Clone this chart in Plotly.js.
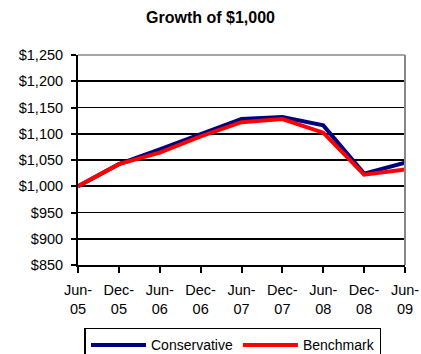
<!DOCTYPE html>
<html><head><meta charset="utf-8">
<script src="https://cdn.plot.ly/plotly-3.0.1.min.js"></script>
<style>html,body{margin:0;padding:0;background:#fff}#chart{width:421px;height:354px}</style>
</head><body><div id="chart"></div>
<script>
const categories = ["Jun-<br>05","Dec-<br>05","Jun-<br>06","Dec-<br>06","Jun-<br>07","Dec-<br>07","Jun-<br>08","Dec-<br>08","Jun-<br>09"];
const conservative = [1000, 1042, 1070, 1099, 1128, 1132, 1116, 1024, 1045];
const benchmark = [1000, 1042, 1064, 1095, 1122, 1128, 1102, 1022, 1032];
const yTicks = [850, 900, 950, 1000, 1050, 1100, 1150, 1200, 1250];
const yTickText = ["$850","$900","$950","$1,000","$1,050","$1,100","$1,150","$1,200","$1,250"];

const font = {family: "Liberation Sans, Arial, sans-serif", size: 14.5, color: "#000"};
const traces = [
  {x: categories, y: conservative, name: "Conservative", type: "scatter", mode: "lines",
   line: {color: "#000080", width: 4}},
  {x: categories, y: benchmark, name: "Benchmark", type: "scatter", mode: "lines",
   line: {color: "#FF0000", width: 4}}
];
const layout = {
  width: 421, height: 354,
  margin: {l: 78, r: 16, t: 55, b: 89, autoexpand: false},
  paper_bgcolor: "#fff", plot_bgcolor: "#fff",
  font: font,
  title: {text: "<b>Growth of $1,000</b>", font: {family: font.family, size: 16, color: "#000"},
          x: 0.5, xanchor: "center", y: 0.95, yanchor: "middle"},
  xaxis: {type: "category", range: [0, 8], showgrid: false, zeroline: false,
          showline: true, linecolor: "#000", linewidth: 2,
          ticks: "outside", ticklen: 6, tickwidth: 2, tickcolor: "#000",
          tickfont: font, tickangle: 0, ticklabelstandoff: 5},
  yaxis: {range: [850, 1250], tickvals: yTicks, ticktext: yTickText,
          showgrid: true, gridcolor: "#000", gridwidth: 1.6, zeroline: false,
          showline: true, linecolor: "#000", linewidth: 2,
          ticks: "outside", ticklen: 5, tickwidth: 2, tickcolor: "#000",
          tickfont: font, ticklabelstandoff: 5},
  shapes: [
    {type: "line", xref: "paper", yref: "paper", x0: 0, x1: 1, y0: 1, y1: 1, line: {color: "#888", width: 1.5}},
    {type: "line", xref: "paper", yref: "paper", x0: 1, x1: 1, y0: 0, y1: 1, line: {color: "#888", width: 2}}
  ],
  showlegend: true,
  legend: {orientation: "h", x: 0.474, xanchor: "center", yref: "container", y: 0.074, yanchor: "top",
           bordercolor: "#000", borderwidth: 1.5, bgcolor: "#fff",
           font: {family: font.family, size: 14, color: "#000"}, itemwidth: 55, tracegroupgap: 0}
};
Plotly.newPlot("chart", traces, layout, {displayModeBar: false, staticPlot: true});
</script></body></html>
